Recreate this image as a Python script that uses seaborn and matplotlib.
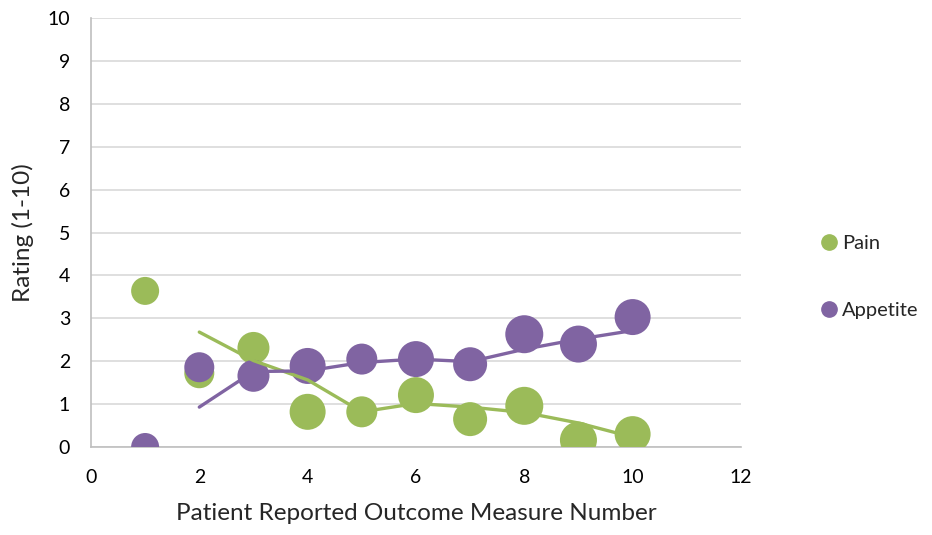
import numpy as np
import pandas as pd
import matplotlib
matplotlib.use("Agg")
import matplotlib.pyplot as plt
from matplotlib.lines import Line2D
import seaborn as sns

# measure number, ratings, bubble diameters (px)
measure = [1, 2, 3, 4, 5, 6, 7, 8, 9, 10]
pain = [3.64, 1.72, 2.31, 0.82, 0.82, 1.21, 0.65, 0.96, 0.16, 0.30]
appetite = [0.0, 1.86, 1.66, 1.89, 2.05, 2.05, 1.93, 2.63, 2.40, 3.03]
bubble_px = [28, 30, 32, 36, 31, 36, 34, 38, 37, 36]

green = "#9BBB59"
purple = "#8064A2"

df = pd.DataFrame({"measure": measure, "Pain": pain, "Appetite": appetite,
                   "bubble": bubble_px})
# Excel style 2-period moving average trendlines
df["Pain_ma"] = df["Pain"].rolling(2).mean()
df["Appetite_ma"] = df["Appetite"].rolling(2).mean()

sns.set_style("white")
plt.rcParams["font.family"] = ["Lato", "DejaVu Sans"]

fig = plt.figure(figsize=(9.32, 5.35), dpi=100)
ax = fig.add_axes([0.0976, 0.1645, 0.6974, 0.8015])

sizes = (df["bubble"] * 0.72) ** 2

sns.scatterplot(data=df, x="measure", y="Pain", s=sizes, color=green,
                edgecolor="none", linewidth=0, alpha=1, ax=ax, zorder=3)
sns.scatterplot(data=df, x="measure", y="Appetite", s=sizes, color=purple,
                edgecolor="none", linewidth=0, alpha=1, ax=ax, zorder=4)
sns.lineplot(data=df.dropna(), x="measure", y="Pain_ma", color=green,
             linewidth=2.4, ax=ax, zorder=5)
sns.lineplot(data=df.dropna(), x="measure", y="Appetite_ma", color=purple,
             linewidth=2.4, ax=ax, zorder=5)

ax.set_xlim(0, 12)
ax.set_ylim(0, 10)
ax.set_xticks(range(0, 13, 2))
ax.set_yticks(range(0, 11))
ax.yaxis.grid(True, color="#D9D9D9", linewidth=1.2, zorder=0)
ax.xaxis.grid(False)
ax.set_axisbelow(True)
for side in ["top", "right"]:
    ax.spines[side].set_visible(False)
for side in ["left", "bottom"]:
    ax.spines[side].set_color("#BFBFBF")
    ax.spines[side].set_linewidth(1.2)
ax.tick_params(axis="both", labelsize=14, colors="black", length=0)
ax.tick_params(axis="x", pad=16)
ax.tick_params(axis="y", pad=15)
ax.set_xlabel("Patient Reported Outcome Measure Number", fontsize=17.5, labelpad=12)
ax.set_ylabel("Rating (1-10)", fontsize=17.5, labelpad=10)

handles = [Line2D([], [], marker="o", linestyle="none", color=green, markersize=11),
           Line2D([], [], marker="o", linestyle="none", color=purple, markersize=11)]
fig.legend(handles, ["Pain", "Appetite"], loc="center left",
           bbox_to_anchor=(0.857, 0.482), frameon=False, fontsize=14.5,
           labelspacing=2.45, handletextpad=0.05, handlelength=1.2)

fig.savefig("out.png", dpi=100)
